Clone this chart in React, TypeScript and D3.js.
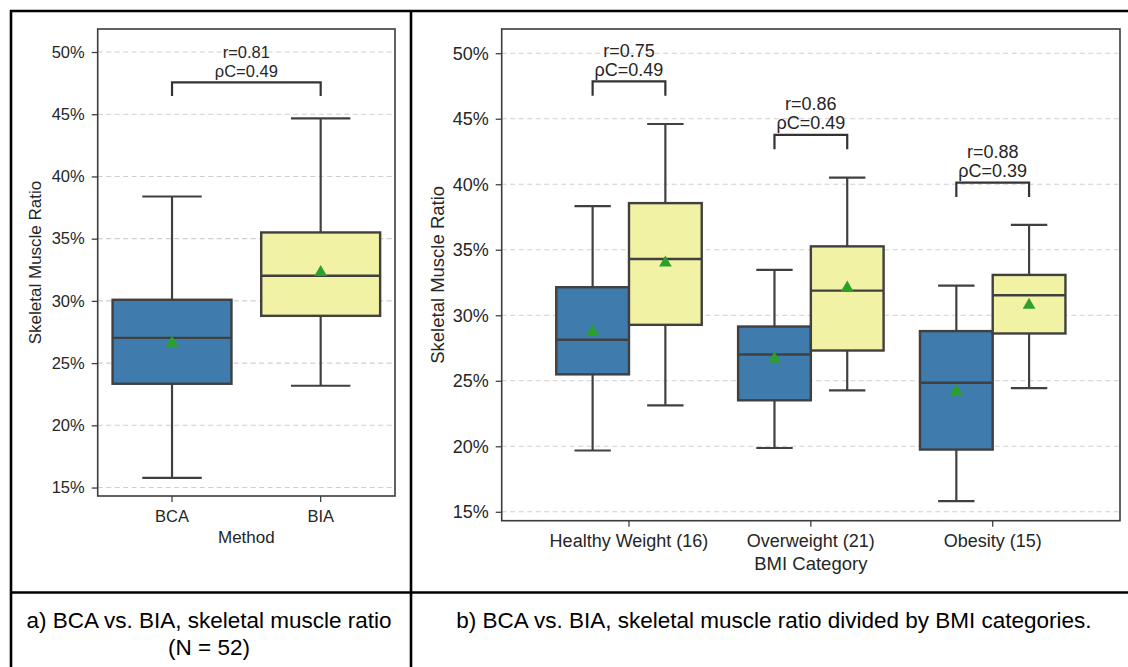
import React, { useEffect, useRef } from 'react';
import * as d3 from 'd3';

const W = 1128;
const H = 667;
const FONT = '"Liberation Sans", Arial, Helvetica, sans-serif';

// box stats in % : [whisker low, q1, median, q3, whisker high, mean]
const methods = ['BCA', 'BIA'];
const methodStats = [
  [15.78, 23.34, 27.03, 30.09, 38.39, 26.6],
  [23.18, 28.8, 32.02, 35.5, 44.66, 32.3],
];
const methodR = ['r=0.81'];
const methodRhoC = ['ρC=0.49'];
const methodBracket = [47.56];

const bmiCategories = ['Healthy Weight (16)', 'Overweight (21)', 'Obesity (15)'];
const bcaByBmi = [
  [19.68, 25.49, 28.13, 32.14, 38.33, 28.76],
  [19.87, 23.51, 27.01, 29.14, 33.46, 26.68],
  [15.81, 19.75, 24.85, 28.79, 32.27, 24.2],
];
const biaByBmi = [
  [23.13, 29.27, 34.3, 38.56, 44.6, 34.0],
  [24.27, 27.31, 31.88, 35.26, 40.5, 32.1],
  [24.44, 28.61, 31.53, 33.08, 36.9, 30.77],
];
const bmiR = ['r=0.75', 'r=0.86', 'r=0.88'];
const bmiRhoC = ['ρC=0.49', 'ρC=0.49', 'ρC=0.39'];
const bmiBracket = [47.86, 43.77, 40.13];

const yTicks = [15, 20, 25, 30, 35, 40, 45, 50];
const yDomain = [14.32, 51.85];

const BLUE = '#3f7bac';
const YELLOW = '#f2f2a5';
const EDGE = '#404040';
const GREEN = '#2ca02c';

type Box = { cat: string; shift: number; frac: number; color: string; s: number[] };

function drawPanel(g: any, o: any) {
  const x = d3.scaleBand().domain(o.cats).range([o.x0, o.x1]).paddingInner(0).paddingOuter(o.padOuter);
  const y = d3.scaleLinear().domain(yDomain).range([o.y1, o.y0]);
  const step = x.bandwidth();
  const cx = (c: string) => (x(c) as number) + step / 2;

  // grid
  g.append('g').selectAll('line').data(yTicks).join('line')
    .attr('x1', o.x0).attr('x2', o.x1)
    .attr('y1', (d: number) => y(d)).attr('y2', (d: number) => y(d))
    .attr('stroke', '#cfcfcf').attr('stroke-width', 1.1).attr('stroke-dasharray', '5,3.5');

  // y axis
  const ya = g.append('g').attr('transform', `translate(${o.x0},0)`)
    .call(d3.axisLeft(y).tickValues(yTicks).tickSize(6).tickPadding(7).tickFormat((d: any) => `${d}%`));
  ya.select('.domain').remove();
  ya.selectAll('line').attr('stroke', EDGE).attr('stroke-width', 1.3);
  ya.selectAll('text').attr('font-family', FONT).attr('font-size', o.fs).attr('fill', '#262626');

  // x axis
  const xa = g.append('g').attr('transform', `translate(0,${o.y1})`)
    .call(d3.axisBottom(x).tickSize(6).tickPadding(o.xTickPad));
  xa.select('.domain').remove();
  xa.selectAll('line').attr('stroke', EDGE).attr('stroke-width', 1.3);
  xa.selectAll('text').attr('font-family', FONT).attr('font-size', o.fs).attr('fill', '#262626');

  // boxes
  o.boxes.forEach((b: Box) => {
    const c = cx(b.cat) + b.shift * step;
    const bw = b.frac * step;
    const [lo, q1, med, q3, hi, mean] = b.s;
    const bg = g.append('g');
    bg.append('line').attr('x1', c).attr('x2', c).attr('y1', y(q1)).attr('y2', y(lo))
      .attr('stroke', EDGE).attr('stroke-width', 2.2);
    bg.append('line').attr('x1', c).attr('x2', c).attr('y1', y(q3)).attr('y2', y(hi))
      .attr('stroke', EDGE).attr('stroke-width', 2.2);
    [lo, hi].forEach((v) => {
      bg.append('line').attr('x1', c - bw / 4).attr('x2', c + bw / 4).attr('y1', y(v)).attr('y2', y(v))
        .attr('stroke', EDGE).attr('stroke-width', 2.2);
    });
    bg.append('rect').attr('x', c - bw / 2).attr('width', bw).attr('y', y(q3)).attr('height', y(q1) - y(q3))
      .attr('fill', b.color).attr('stroke', EDGE).attr('stroke-width', 2.4);
    bg.append('line').attr('x1', c - bw / 2).attr('x2', c + bw / 2).attr('y1', y(med)).attr('y2', y(med))
      .attr('stroke', EDGE).attr('stroke-width', 2.4);
    bg.append('path').attr('d', d3.symbol(d3.symbolTriangle, 70)()).attr('transform', `translate(${c},${y(mean)})`)
      .attr('fill', GREEN);
  });

  // brackets
  o.brackets.forEach((br: any) => {
    const xa1 = cx(br.cat) + br.a * step;
    const xb1 = cx(br.cat) + br.b * step;
    const yb = y(br.level);
    const yd = y(br.level - 1.1);
    g.append('path').attr('d', `M${xa1},${yd}V${yb}H${xb1}V${yd}`)
      .attr('fill', 'none').attr('stroke', '#333').attr('stroke-width', 2.2);
    const mx = (xa1 + xb1) / 2;
    g.append('text').attr('x', mx).attr('y', yb - 30.5).attr('dominant-baseline', 'central')
      .attr('text-anchor', 'middle').attr('font-family', FONT).attr('font-size', o.fs).attr('fill', '#262626')
      .text(br.r);
    g.append('text').attr('x', mx).attr('y', yb - 11.5).attr('dominant-baseline', 'central')
      .attr('text-anchor', 'middle').attr('font-family', FONT).attr('font-size', o.fs).attr('fill', '#262626')
      .text(br.rho);
  });

  // frame
  g.append('rect').attr('x', o.x0).attr('y', o.y0).attr('width', o.x1 - o.x0).attr('height', o.y1 - o.y0)
    .attr('fill', 'none').attr('stroke', '#3b3b3b').attr('stroke-width', 1.6);

  // axis titles
  g.append('text').attr('transform', `translate(${o.yLabelX},${(o.y0 + o.y1) / 2}) rotate(-90)`)
    .attr('text-anchor', 'middle').attr('dominant-baseline', 'central')
    .attr('font-family', FONT).attr('font-size', o.labelFs).attr('fill', '#262626').text('Skeletal Muscle Ratio');
  g.append('text').attr('x', (o.x0 + o.x1) / 2).attr('y', o.xLabelY).attr('text-anchor', 'middle')
    .attr('dominant-baseline', 'central').attr('font-family', FONT).attr('font-size', o.labelFs)
    .attr('fill', '#262626').text(o.xLabel);
}

const App = () => {
  const svgRef = useRef<SVGSVGElement>(null);

  useEffect(() => {
    const svg = d3.select(svgRef.current);
    svg.selectAll('*').remove();

    svg.append('rect').attr('width', W).attr('height', H).attr('fill', '#fff');

    // panel a
    drawPanel(svg.append('g'), {
      x0: 97.7, x1: 395, y0: 29, y1: 496, cats: methods, padOuter: 0, fs: 16.5, labelFs: 17,
      xTickPad: 8, yLabelX: 35, xLabel: 'Method', xLabelY: 537,
      boxes: methods.map((m, i) => ({ cat: m, shift: 0, frac: 0.8, color: i === 0 ? BLUE : YELLOW, s: methodStats[i] })),
      brackets: methodR.map((r, i) => ({ cat: methods[0], a: 0, b: 1, level: methodBracket[i], r, rho: methodRhoC[i] })),
    });

    // panel b
    const bBoxes: Box[] = [];
    bmiCategories.forEach((c, i) => {
      bBoxes.push({ cat: c, shift: -0.2, frac: 0.4, color: BLUE, s: bcaByBmi[i] });
      bBoxes.push({ cat: c, shift: 0.2, frac: 0.4, color: YELLOW, s: biaByBmi[i] });
    });
    drawPanel(svg.append('g'), {
      x0: 501.7, x1: 1120, y0: 29, y1: 520.7, cats: bmiCategories, padOuter: 0.2, fs: 18, labelFs: 18.5,
      xTickPad: 8, yLabelX: 437, xLabel: 'BMI Category', xLabelY: 563,
      boxes: bBoxes,
      brackets: bmiCategories.map((c, i) => ({ cat: c, a: -0.2, b: 0.2, level: bmiBracket[i], r: bmiR[i], rho: bmiRhoC[i] })),
    });

    // table borders
    const t = svg.append('g').attr('stroke', '#000').attr('stroke-width', 2.6);
    t.append('line').attr('x1', 10).attr('x2', W).attr('y1', 11).attr('y2', 11);
    t.append('line').attr('x1', 11).attr('x2', 11).attr('y1', 10).attr('y2', H);
    t.append('line').attr('x1', 411).attr('x2', 411).attr('y1', 10).attr('y2', H);
    t.append('line').attr('x1', 10).attr('x2', W).attr('y1', 592.5).attr('y2', 592.5);

    // captions
    const cap = (x: number, y: number, s: string) =>
      svg.append('text').attr('x', x).attr('y', y).attr('text-anchor', 'middle').attr('dominant-baseline', 'central')
        .attr('font-family', FONT).attr('font-size', 22.5).attr('fill', '#000').text(s);
    cap(209, 620, 'a) BCA vs. BIA, skeletal muscle ratio');
    cap(209, 647, '(N = 52)');
    cap(774, 620, 'b) BCA vs. BIA, skeletal muscle ratio divided by BMI categories.');
  }, []);

  return (
    <svg ref={svgRef} width={W} height={H} style={{ position: 'absolute', left: 0, top: 0, display: 'block' }} />
  );
};

export default App;
